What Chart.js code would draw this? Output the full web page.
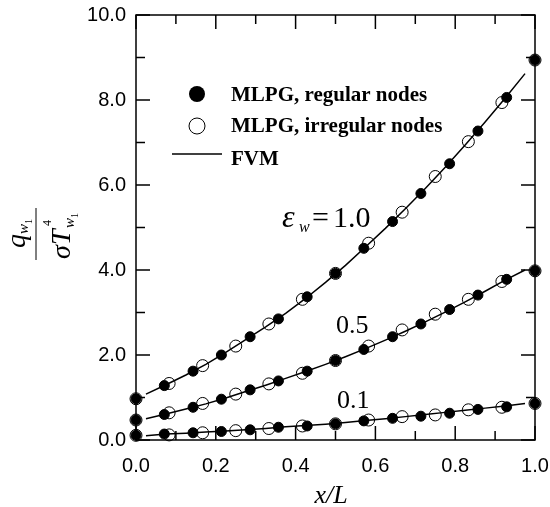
<!DOCTYPE html>
<html>
<head>
<meta charset="utf-8">
<script src="https://cdn.jsdelivr.net/npm/chart.js@4.4.1/dist/chart.umd.min.js"></script>
<style>
    html, body { margin: 0; padding: 0; background: #fff; }
</style>
</head>
<body>
<canvas id="myChart" width="550" height="507"></canvas>
<script>
// x positions of the nodes
const regX = [0, 0.071, 0.143, 0.214, 0.286, 0.357, 0.429, 0.5, 0.571, 0.643, 0.714, 0.786, 0.857, 0.929, 1.0];
const irrX = [0, 0.083, 0.167, 0.25, 0.333, 0.417, 0.5, 0.583, 0.667, 0.75, 0.833, 0.917, 1.0];
const fvmX = [0.025, 0.075, 0.125, 0.175, 0.225, 0.275, 0.325, 0.375, 0.425, 0.475,
              0.525, 0.575, 0.625, 0.675, 0.725, 0.775, 0.825, 0.875, 0.925, 0.975];

// MLPG, regular nodes
const reg10 = [0.97, 1.28, 1.62, 2.00, 2.43, 2.85, 3.37, 3.92, 4.51, 5.14, 5.80, 6.50, 7.27, 8.06, 8.94];
const reg05 = [0.47, 0.60, 0.77, 0.96, 1.18, 1.39, 1.62, 1.87, 2.13, 2.43, 2.73, 3.07, 3.41, 3.78, 3.98];
const reg01 = [0.11, 0.14, 0.17, 0.20, 0.24, 0.30, 0.33, 0.38, 0.45, 0.51, 0.56, 0.63, 0.72, 0.78, 0.86];

// MLPG, irregular nodes
const irr10 = [0.97, 1.33, 1.75, 2.21, 2.73, 3.31, 3.92, 4.63, 5.36, 6.20, 7.02, 7.94, 8.94];
const irr05 = [0.47, 0.64, 0.86, 1.08, 1.32, 1.57, 1.87, 2.21, 2.59, 2.96, 3.31, 3.73, 3.98];
const irr01 = [0.11, 0.12, 0.17, 0.22, 0.27, 0.33, 0.38, 0.47, 0.55, 0.59, 0.71, 0.77, 0.86];

// FVM solution
const fvm10 = [1.08, 1.30, 1.53, 1.78, 2.06, 2.36, 2.66, 2.98, 3.33, 3.71,
               4.11, 4.54, 4.98, 5.44, 5.92, 6.42, 6.94, 7.48, 8.04, 8.62];
const fvm05 = [0.50, 0.61, 0.73, 0.85, 0.99, 1.14, 1.29, 1.45, 1.61, 1.78,
               1.96, 2.15, 2.35, 2.56, 2.78, 3.01, 3.25, 3.50, 3.76, 4.00];
const fvm01 = [0.10, 0.14, 0.16, 0.19, 0.21, 0.24, 0.27, 0.31, 0.34, 0.37,
               0.41, 0.46, 0.50, 0.55, 0.60, 0.65, 0.70, 0.75, 0.80, 0.86];

// tick positions
const xMajor = [0, 0.2, 0.4, 0.6, 0.8, 1.0];
const xMinor = [0.1, 0.3, 0.5, 0.7, 0.9];
const yMajor = [0, 2, 4, 6, 8, 10];
const yMinor = [1, 3, 5, 7, 9];

const serif = '"Liberation Serif", "Times New Roman", serif';
const sans = '"Liberation Sans", Arial, sans-serif';

function pts(xs, ys) {
    return xs.map((x, i) => ({ x: x, y: ys[i] }));
}

function lineSet(ys) {
    return {
        label: 'FVM', data: pts(fvmX, ys), showLine: true,
        borderColor: '#000', borderWidth: 1.5, pointRadius: 0, order: 2, clip: false
    };
}
function openSet(ys) {
    return {
        label: 'MLPG, irregular nodes', data: pts(irrX, ys),
        pointRadius: 6, pointBorderWidth: 1, borderColor: '#000',
        pointBackgroundColor: 'rgba(0,0,0,0)', backgroundColor: 'rgba(0,0,0,0)', order: 1, clip: false
    };
}
function fillSet(ys) {
    return {
        label: 'MLPG, regular nodes', data: pts(regX, ys),
        pointRadius: 5, pointBorderWidth: 1, borderColor: '#000',
        pointBackgroundColor: '#000', backgroundColor: '#000', order: 0, clip: false
    };
}

// box, inward ticks, legend, labels
const decorPlugin = {
    id: 'decor',
    afterDraw(chart) {
        const ctx = chart.ctx;
        const a = chart.chartArea;
        const sx = chart.scales.x, sy = chart.scales.y;
        ctx.save();
        ctx.strokeStyle = '#000';
        ctx.fillStyle = '#000';
        ctx.lineWidth = 1.5;
        ctx.strokeRect(a.left, a.top, a.right - a.left, a.bottom - a.top);

        ctx.beginPath();
        const tick = (v, len, horiz) => {
            if (horiz) {
                const p = sx.getPixelForValue(v);
                ctx.moveTo(p, a.bottom); ctx.lineTo(p, a.bottom - len);
                ctx.moveTo(p, a.top); ctx.lineTo(p, a.top + len);
            } else {
                const p = sy.getPixelForValue(v);
                ctx.moveTo(a.left, p); ctx.lineTo(a.left + len, p);
                ctx.moveTo(a.right, p); ctx.lineTo(a.right - len, p);
            }
        };
        xMajor.forEach(v => tick(v, 14, true));
        xMinor.forEach(v => tick(v, 9, true));
        yMajor.forEach(v => tick(v, 14, false));
        yMinor.forEach(v => tick(v, 9, false));
        ctx.stroke();

        // legend
        ctx.lineWidth = 1;
        ctx.beginPath();
        ctx.arc(197, 94, 8, 0, Math.PI * 2);
        ctx.fill();
        ctx.beginPath();
        ctx.arc(197, 126, 8, 0, Math.PI * 2);
        ctx.stroke();
        ctx.lineWidth = 1.5;
        ctx.beginPath();
        ctx.moveTo(172, 154); ctx.lineTo(222, 154);
        ctx.stroke();
        ctx.font = 'bold 21px ' + serif;
        ctx.textAlign = 'left';
        ctx.textBaseline = 'alphabetic';
        ctx.fillText('MLPG, regular nodes', 231, 101);
        ctx.fillText('MLPG, irregular nodes', 231, 132);
        ctx.fillText('FVM', 231, 165);

        // curve labels
        ctx.font = 'italic 32px ' + serif;
        ctx.fillText('\u03b5', 282, 227);
        ctx.font = 'italic 16px ' + serif;
        ctx.fillText('w', 299, 232);
        ctx.font = '30px ' + serif;
        ctx.fillText('=', 312, 227);
        ctx.fillText('1.0', 333, 227);
        ctx.font = '26px ' + serif;
        ctx.fillText('0.5', 336, 333);
        ctx.fillText('0.1', 337, 408);

        // x title
        ctx.font = 'italic 26px ' + serif;
        ctx.textAlign = 'center';
        ctx.fillText('x/L', 331, 503);

        // y title (fraction, rotated)
        ctx.translate(36, 234);
        ctx.rotate(-Math.PI / 2);
        ctx.textAlign = 'left';
        ctx.font = 'italic 28px ' + serif;
        ctx.fillText('q', -14, -11);
        ctx.font = 'italic 15px ' + serif;
        ctx.fillText('w', 0, -8);
        ctx.font = '10px ' + serif;
        ctx.fillText('1', 10, -4);
        ctx.lineWidth = 1;
        ctx.beginPath();
        ctx.moveTo(-26, 0); ctx.lineTo(26, 0);
        ctx.stroke();
        ctx.font = 'italic 28px ' + serif;
        ctx.fillText('\u03c3', -25, 34);
        ctx.fillText('T', -11, 34);
        ctx.font = '12px ' + serif;
        ctx.fillText('4', 8, 15);
        ctx.font = 'italic 15px ' + serif;
        ctx.fillText('w', 6, 38);
        ctx.font = '10px ' + serif;
        ctx.fillText('1', 16, 42);
        ctx.restore();
    }
};

const ctx = document.getElementById('myChart');

new Chart(ctx, {
    type: 'scatter',
    data: {
        datasets: [
            fillSet(reg10), openSet(irr10), lineSet(fvm10),
            fillSet(reg05), openSet(irr05), lineSet(fvm05),
            fillSet(reg01), openSet(irr01), lineSet(fvm01)
        ]
    },
    options: {
        responsive: false,
        animation: false,
        layout: { padding: 0 },
        plugins: {
            legend: { display: false },
            tooltip: { enabled: false },
            title: { display: false }
        },
        scales: {
            x: {
                type: 'linear',
                min: 0, max: 1,
                grid: { display: false, drawTicks: false },
                border: { display: false },
                afterFit: s => {
                    s.height = 67;
                    s.paddingLeft = 0;
                    s.paddingRight = 15;
                },
                ticks: {
                    stepSize: 0.2,
                    padding: 14,
                    color: '#000',
                    font: { family: sans, size: 20 },
                    callback: v => v.toFixed(1)
                }
            },
            y: {
                type: 'linear',
                min: 0, max: 10,
                grid: { display: false, drawTicks: false },
                border: { display: false },
                afterFit: s => {
                    s.width = 136;
                    s.paddingTop = 15;
                    s.paddingBottom = 0;
                },
                ticks: {
                    stepSize: 2,
                    padding: 10,
                    color: '#000',
                    font: { family: sans, size: 20 },
                    callback: v => v.toFixed(1)
                }
            }
        }
    },
    plugins: [decorPlugin]
});
</script>
</body>
</html>
